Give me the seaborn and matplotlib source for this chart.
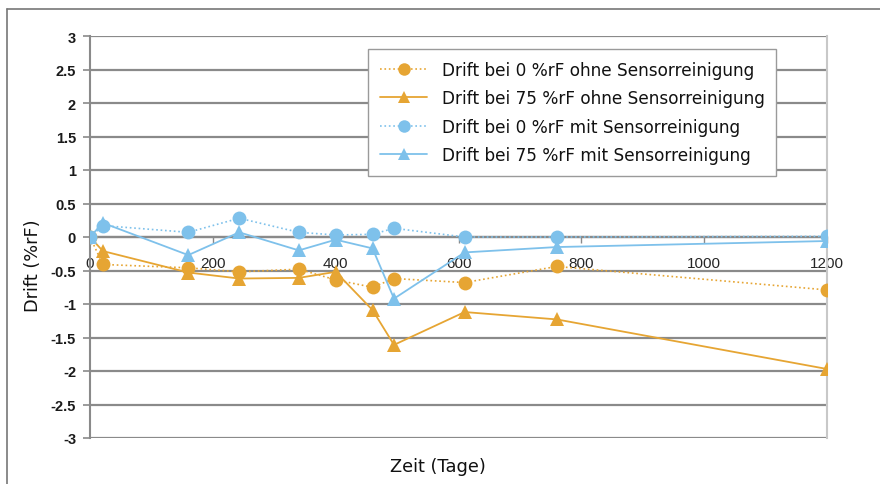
import matplotlib
matplotlib.use("Agg")
import matplotlib.pyplot as plt
import seaborn as sns
import pandas as pd
from matplotlib.lines import Line2D

# ---- data ----
tage = [0, 21, 160, 243, 340, 400, 460, 495, 610, 760, 1200]
drift_0_ohne = [0, -0.41, -0.46, -0.52, -0.48, -0.64, -0.75, -0.62, -0.68, -0.44, -0.79]
drift_75_ohne = [0, -0.21, -0.53, -0.62, -0.61, -0.52, -1.09, -1.61, -1.12, -1.23, -1.97]
drift_0_mit = [0, 0.17, 0.07, 0.28, 0.07, 0.03, 0.04, 0.13, 0.0, 0.0, 0.01]
drift_75_mit = [0, 0.21, -0.27, 0.07, -0.20, -0.04, -0.17, -0.92, -0.23, -0.15, -0.06]

series_names = [
    "Drift bei 0 %rF ohne Sensorreinigung",
    "Drift bei 75 %rF ohne Sensorreinigung",
    "Drift bei 0 %rF mit Sensorreinigung",
    "Drift bei 75 %rF mit Sensorreinigung",
]
x_ticks = [0, 200, 400, 600, 800, 1000, 1200]
y_ticks = [3, 2.5, 2, 1.5, 1, 0.5, 0, -0.5, -1, -1.5, -2, -2.5, -3]
y_tick_labels = ["3", "2.5", "2", "1.5", "1", "0.5", "0", "-0.5", "-1", "-1.5", "-2", "-2.5", "-3"]

ORANGE = "#E6A533"
BLUE = "#7EC1EB"
GRID = "#8a8a8a"
LABEL_FONT = ["DejaVu Sans"]

sns.set_theme(style="white")
plt.rcParams["font.family"] = ["Liberation Sans", "DejaVu Sans"]

fig = plt.figure(figsize=(8.8, 4.85), dpi=100)
ax = fig.add_axes([90 / 880, 1 - 439 / 485, (827 - 90) / 880, (439 - 37) / 485])

styles = [
    (drift_0_ohne, ORANGE, "o", ":", 1.2),
    (drift_75_ohne, ORANGE, "^", "-", 1.3),
    (drift_0_mit, BLUE, "o", ":", 1.2),
    (drift_75_mit, BLUE, "^", "-", 1.3),
]
handles = []
for (vals, col, mk, ls, lw), name in zip(styles, series_names):
    df = pd.DataFrame({"Tage": tage, "Drift": vals})
    sns.lineplot(data=df, x="Tage", y="Drift", ax=ax, color=col, marker=mk,
                 linestyle=ls, linewidth=lw, markersize=10 if mk == "o" else 10.5,
                 markeredgewidth=0, markeredgecolor=col, zorder=3)
    handles.append(Line2D([0], [0], color=col, marker=mk, linestyle=ls,
                          linewidth=lw, markersize=9, markeredgewidth=0))

ax.set_xlim(0, 1200)
ax.set_ylim(-3, 3)
ax.set_yticks(y_ticks)
ax.set_yticklabels(y_tick_labels, fontsize=10.5, fontweight="bold", color="#1a1a1a")
ax.set_xticks(x_ticks)
ax.set_xticklabels([str(t) for t in x_ticks], fontsize=12.5, fontweight="bold", color="#1a1a1a")

for yv in y_ticks:
    ax.axhline(yv, color=GRID, linewidth=1.6, zorder=1)

ax.spines["top"].set_visible(False)
ax.spines["right"].set_color("#c8c8c8")
ax.spines["right"].set_linewidth(1.5)
ax.spines["left"].set_color(GRID)
ax.spines["left"].set_linewidth(1.5)
ax.spines["bottom"].set_position(("data", 0))
ax.spines["bottom"].set_color(GRID)
ax.spines["bottom"].set_linewidth(1.6)

ax.tick_params(axis="y", which="both", left=True, length=5, width=1.2, color=GRID, pad=5)
ax.tick_params(axis="x", which="both", bottom=True, length=4, width=1.0, color=GRID, pad=10)

ax.set_xlabel("")
ax.set_ylabel("")
fig.text(438 / 880, 1 - 472 / 485, "Zeit (Tage)", ha="center", va="baseline",
         fontsize=12.8, family=LABEL_FONT, color="#111111")
fig.text(33 / 880, 1 - 266 / 485, "Drift (%rF)", ha="center", va="center", rotation=90,
         fontsize=12.8, family=LABEL_FONT, color="#111111")

leg = fig.legend(handles, series_names, loc="upper left",
                 bbox_to_anchor=(368 / 880, 1 - 50 / 485), frameon=True, fancybox=False,
                 prop={"family": LABEL_FONT, "size": 12.2},
                 handlelength=2.8, handletextpad=0.85, labelspacing=0.62,
                 borderpad=0.7, borderaxespad=0)
leg.get_frame().set_edgecolor("#9a9a9a")
leg.get_frame().set_linewidth(1.0)
leg.get_frame().set_facecolor("white")
leg.get_frame().set_alpha(1)
for t in leg.get_texts():
    t.set_color("#111111")

# outer frame lines (top and left)
fig.add_artist(Line2D([7 / 880, 1.0], [1 - 10 / 485, 1 - 10 / 485], color="#777777", linewidth=1.2))
fig.add_artist(Line2D([7 / 880, 7 / 880], [0, 1 - 10 / 485], color="#777777", linewidth=1.2))

fig.savefig("out.png", dpi=100)
